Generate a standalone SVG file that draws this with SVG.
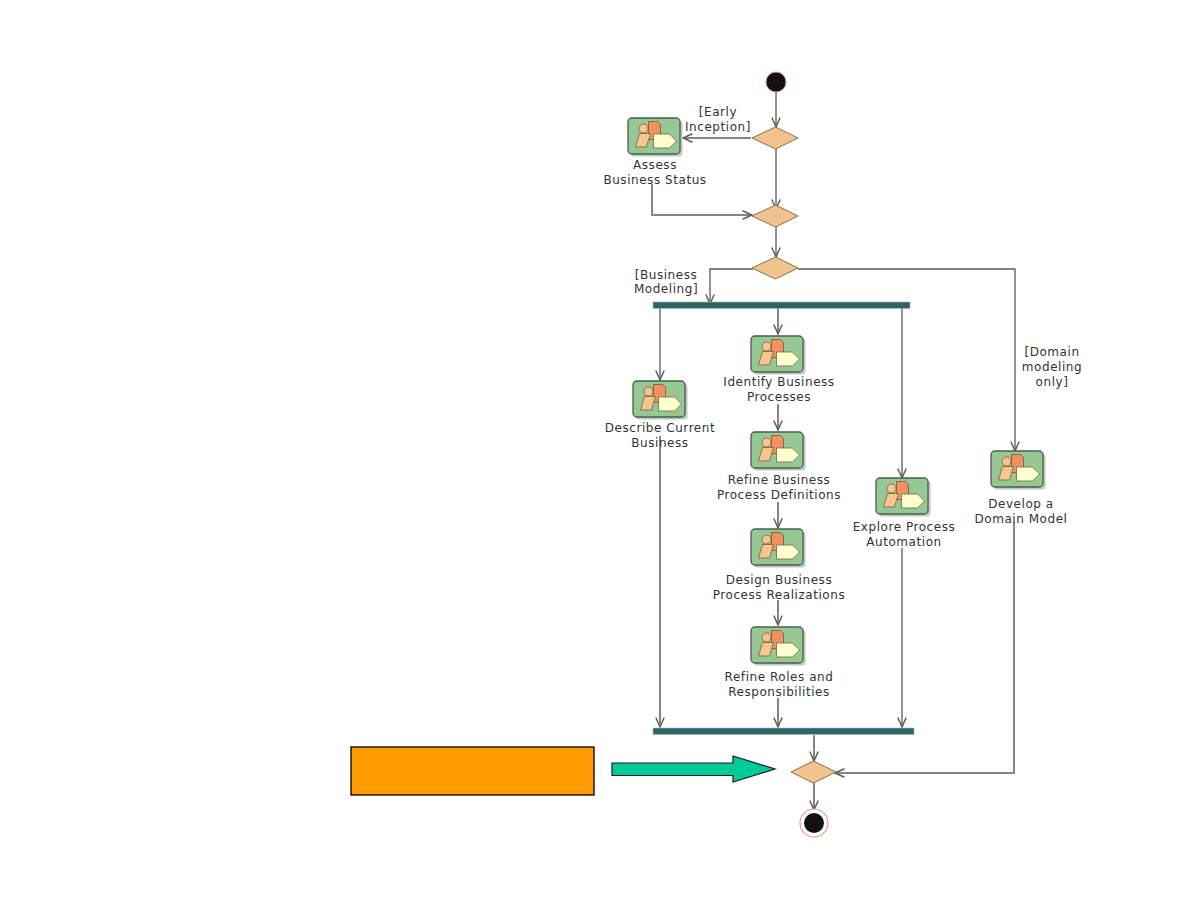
<svg xmlns="http://www.w3.org/2000/svg" width="1188" height="918" viewBox="0 0 1188 918">
  <style>
    .lbl { font-family: "DejaVu Sans", sans-serif; font-size: 12px; letter-spacing: .55px; fill: #333333; text-anchor: middle; }
    .flow { fill: none; stroke: #858581; stroke-width: 2; marker-end: url(#open); }
    .flowdark { fill: none; stroke: #5c5955; stroke-width: 1.3; marker-end: url(#open); }
    .decision { fill: #f2c48d; stroke: #8a6d4b; stroke-width: 1; }
    .bar { fill: #2f6466; stroke: #a9bcbc; stroke-width: .6; }
  </style>
  <defs>
    <marker id="open" markerUnits="userSpaceOnUse" markerWidth="14" markerHeight="14" refX="10" refY="6" orient="auto">
      <path d="M0.500,1.800 L10,6 L0.500,10.200" fill="none" stroke="#5f5f5a" stroke-width="1.500"/>
    </marker>
    <g id="workflow">
      <rect x="3" y="3" width="52" height="36" rx="4" fill="#c4c4c4"/>
      <rect x="0.500" y="0.500" width="52" height="36" rx="4" fill="#96c896" stroke="#46604a" stroke-width="1.300"/>
      <circle cx="16" cy="11" r="4.500" fill="#f5c690" stroke="#7a5a3c" stroke-width=".8"/>
      <path d="M21,4 H30 L33,7 V22 H21 Z" fill="#ee9264" stroke="#8a4c30" stroke-width=".8"/>
      <path d="M12,16 H23 L19,29.500 H8 Z" fill="#f5c690" stroke="#7a5a3c" stroke-width=".8"/>
      <path d="M26,16.500 H42 L49,23.500 L42,30.500 H26 Z" fill="#ffffcc" stroke="#6a6a4a" stroke-width=".8"/>
    </g>
  </defs>

  <rect width="1188" height="918" fill="#ffffff"/>

  <g id="connectors">
    <path class="flowdark" d="M776,92 V127"/>
    <path class="flow" d="M751,138 H683"/>
    <path class="flowdark" d="M776,149 V209"/>
    <path class="flow" d="M652,184 V215 H752"/>
    <path class="flowdark" d="M776,227 V257"/>
    <path class="flowdark" d="M753,269 H710 V304"/>
    <path class="flowdark" d="M798,269 H1015 V451"/>
    <path class="flowdark" d="M660,308 V380"/>
    <path class="flow" d="M778,308 V334"/>
    <path class="flowdark" d="M902,308 V478"/>
    <path class="flow" d="M778,404 V430"/>
    <path class="flow" d="M778,502 V528"/>
    <path class="flow" d="M778,600 V625"/>
    <path class="flow" d="M778,698 V727"/>
    <path class="flow" d="M660,436 V727"/>
    <path class="flowdark" d="M902,548 V727"/>
    <path class="flow" d="M1014,522 V773 H835"/>
    <path class="flow" d="M814,735 V761"/>
    <path class="flow" d="M814,783 V810"/>
  </g>

  <g id="start"><circle cx="776" cy="82" r="10" fill="#111111" stroke="#e08a80" stroke-width="1"/></g>

  <g id="early-decision">
    <path class="decision" d="M752,138 L775.500,127 L798,138 L775.500,149 Z"/>
    <text class="lbl" x="718" y="116">[Early</text>
    <text class="lbl" x="718" y="131">Inception]</text>
  </g>
  <g id="assess-status">
    <use href="#workflow" x="627.500" y="117.500"/>
    <text class="lbl" x="655" y="169">Assess</text>
    <text class="lbl" x="655" y="184">Business Status</text>
  </g>
  <g id="merge-top"><path class="decision" d="M752,216 L775.500,205 L798,216 L775.500,227 Z"/></g>
  <g id="modeling-decision">
    <path class="decision" d="M752,268 L775.500,257 L798,268 L775.500,279 Z"/>
    <text class="lbl" x="666" y="279">[Business</text>
    <text class="lbl" x="666" y="293">Modeling]</text>
    <text class="lbl" x="1052" y="356">[Domain</text>
    <text class="lbl" x="1052" y="371">modeling</text>
    <text class="lbl" x="1052" y="386">only]</text>
  </g>
  <g id="fork"><rect class="bar" x="653" y="302" width="257" height="6.500"/></g>
  <g id="describe-business">
    <use href="#workflow" x="632.500" y="380.500"/>
    <text class="lbl" x="660" y="432">Describe Current</text>
    <text class="lbl" x="660" y="447">Business</text>
  </g>
  <g id="identify-processes">
    <use href="#workflow" x="750.500" y="335.500"/>
    <text class="lbl" x="779" y="386">Identify Business</text>
    <text class="lbl" x="779" y="401">Processes</text>
  </g>
  <g id="refine-definitions">
    <use href="#workflow" x="750.500" y="431.500"/>
    <text class="lbl" x="779" y="484">Refine Business</text>
    <text class="lbl" x="779" y="499">Process Definitions</text>
  </g>
  <g id="design-realizations">
    <use href="#workflow" x="750.500" y="528.500"/>
    <text class="lbl" x="779" y="584">Design Business</text>
    <text class="lbl" x="779" y="599">Process Realizations</text>
  </g>
  <g id="refine-roles">
    <use href="#workflow" x="750.500" y="626.500"/>
    <text class="lbl" x="779" y="681">Refine Roles and</text>
    <text class="lbl" x="779" y="696">Responsibilities</text>
  </g>
  <g id="explore-automation">
    <use href="#workflow" x="875.500" y="477.500"/>
    <text class="lbl" x="904" y="531">Explore Process</text>
    <text class="lbl" x="904" y="546">Automation</text>
  </g>
  <g id="domain-model">
    <use href="#workflow" x="990.500" y="450.500"/>
    <text class="lbl" x="1021" y="508">Develop a</text>
    <text class="lbl" x="1021" y="523">Domain Model</text>
  </g>
  <g id="join"><rect class="bar" x="653" y="728" width="261" height="6.500"/></g>
  <g id="merge-bottom"><path class="decision" d="M791,772 L813.500,761 L836,772 L813.500,783 Z"/></g>
  <g id="end">
    <circle cx="814" cy="823" r="14" fill="#ffffff" stroke="#e89a90" stroke-width="1.200"/>
    <circle cx="814" cy="823" r="10" fill="#111111"/>
  </g>

  <g id="callout">
    <rect x="351" y="747" width="243" height="48" fill="#ff9900" stroke="#000000" stroke-width="1.300"/>
    <path d="M612,763 H733 V756 L775,769 L733,782 V775.500 H612 Z" fill="#00cc99" stroke="#1a1a1a" stroke-width="1.200"/>
  </g>
</svg>
